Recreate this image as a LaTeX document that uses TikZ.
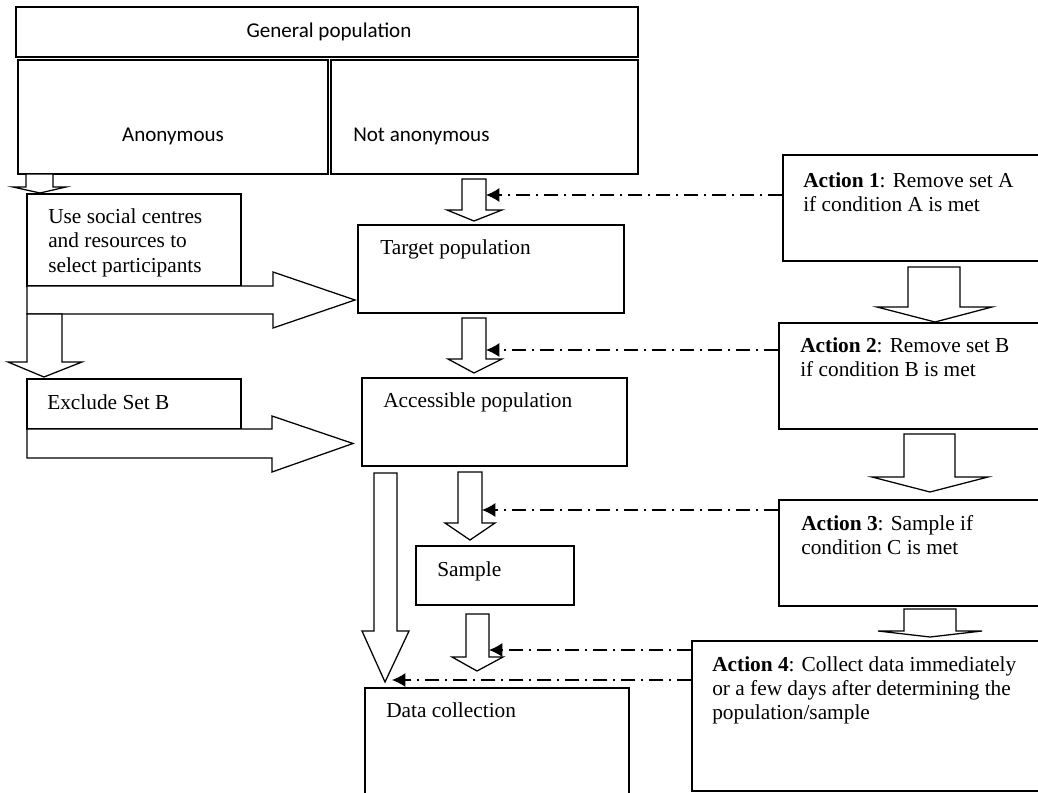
\documentclass[tikz,border=0pt]{standalone}
\usepackage{fontspec}
\setmainfont{Liberation Serif}
\newfontfamily\calfont{Carlito}
\usetikzlibrary{fit,arrows.meta}
\newcommand\dnarrow[8]{\draw[blk] (#1,#3) -- (#2,#3) -- (#2,#4) -- (#6,#4) -- (#7,#8) -- (#5,#4) -- (#1,#4) -- cycle;}
\newcommand\rtarrow[7]{\draw[blk] (#1,#2) -- (#4,#2) -- (#4,#5) -- (#7,{(#2+#3)/2}) -- (#4,#6) -- (#4,#3) -- (#1,#3) -- cycle;}
\tikzset{
  box/.style={draw, line width=0.95pt, fill=white, inner sep=0pt},
  blk/.style={draw, line width=0.95pt, fill=white, line join=miter},
  txt/.style={inner sep=0pt, font=\fontsize{16}{18}\selectfont},
  ctxt/.style={inner sep=0pt, font=\calfont\fontsize{15.8}{19}\selectfont},
  mtxt/.style={txt, align=left, anchor=north west},
  dd/.style={line width=0.95pt, dash pattern=on 11pt off 4pt on 2pt off 4pt, -{Latex[length=10pt,width=10.5pt]}},
}
\begin{document}
\begin{tikzpicture}[x=0.75pt,y=-0.75pt]
\clip (0,0) rectangle (1038,792);
\fill[white] (0,0) rectangle (1038,792);
% top boxes
\node[box, fit={(16,7) (638,57)}] (gp) {};
\node[box, fit={(18,60) (328,174)}] (anon) {};
\node[box, fit={(331,60) (638,174)}] (nanon) {};
\node[ctxt, anchor=base] (gpt) at (329,38) {General population};
\node[ctxt, anchor=base] (anont) at (173,141) {Anonymous};
\node[ctxt, anchor=base west] (nanont) at (353,141) {Not anonymous};
% left column
\node[box, fit={(27,194) (241,286)}] (usc) {};
\node[mtxt, font=\fontsize{16}{18.4}\selectfont] (usct) at (48,208) {Use social centres\\and resources to\\select participants};
\node[box, fit={(27,379) (241,429)}] (excl) {};
\node[txt, anchor=base west] (exclt) at (47,409) {Exclude Set B};
% middle column
\node[box, fit={(358,225) (624,313)}] (tgt) {};
\node[txt, anchor=base west] (tgtt) at (380,254) {Target population};
\node[box, fit={(362,378) (627,466)}] (acc) {};
\node[txt, anchor=base west] (acct) at (383,407) {Accessible population};
\node[box, fit={(416,546) (574,605)}] (smp) {};
\node[txt, anchor=base west] (smpt) at (437,576) {Sample};
\node[box, fit={(365,688) (629,820)}] (dc) {};
\node[txt, anchor=base west] (dct) at (386,717) {Data collection};
% right column
\node[box, fit={(783,155) (1050,261)}] (a1) {};
\node[mtxt] (a1t) at (803,172) {\textbf{Action 1}: Remove set A\\if condition A is met};
\node[box, fit={(779,323) (1050,429)}] (a2) {};
\node[mtxt] (a2t) at (800,337) {\textbf{Action 2}: Remove set B\\if condition B is met};
\node[box, fit={(779,500) (1050,606)}] (a3) {};
\node[mtxt] (a3t) at (801,515) {\textbf{Action 3}: Sample if\\condition C is met};
\node[box, fit={(692,641) (1050,791)}] (a4) {};
\node[mtxt] (a4t) at (712,656) {\textbf{Action 4}: Collect data immediately\\or a few days after determining the\\population/sample};
% block arrows
\dnarrow{26}{53}{174}{187}{13}{66}{40}{193}
\rtarrow{27}{286}{314}{273}{272}{328}{355}
\dnarrow{27}{62}{314}{362}{8}{82}{44}{377}
\rtarrow{27}{429}{458}{272}{416}{472}{353}
\dnarrow{462}{486}{179}{210}{447}{502}{474}{221}
\dnarrow{462}{486}{318}{359}{448}{502}{474}{373}
\dnarrow{374}{397}{473}{631}{362}{409}{385}{682}
\dnarrow{458}{482}{472}{523}{445}{495}{470}{540}
\dnarrow{466}{489}{614}{657}{452}{503}{477}{671}
\dnarrow{908}{960}{267}{307}{877}{992}{935}{322}
\dnarrow{904}{955}{434}{477}{872}{988}{930}{492}
\dnarrow{904}{956}{609}{631}{878}{982}{930}{637}
% dash-dot connectors
\coordinate (h1) at (486,195);
\coordinate (h2) at (486,350);
\coordinate (h3) at (482,510);
\coordinate (h4) at (489,650);
\coordinate (h5) at (392,680);
\draw[dd] (a1.west |- h1) -- (h1);
\draw[dd] (a2.west |- h2) -- (h2);
\draw[dd] (a3.west |- h3) -- (h3);
\draw[dd] (a4.west |- h4) -- (h4);
\draw[dd] (a4.west |- h5) -- (h5);
\end{tikzpicture}
\end{document}
